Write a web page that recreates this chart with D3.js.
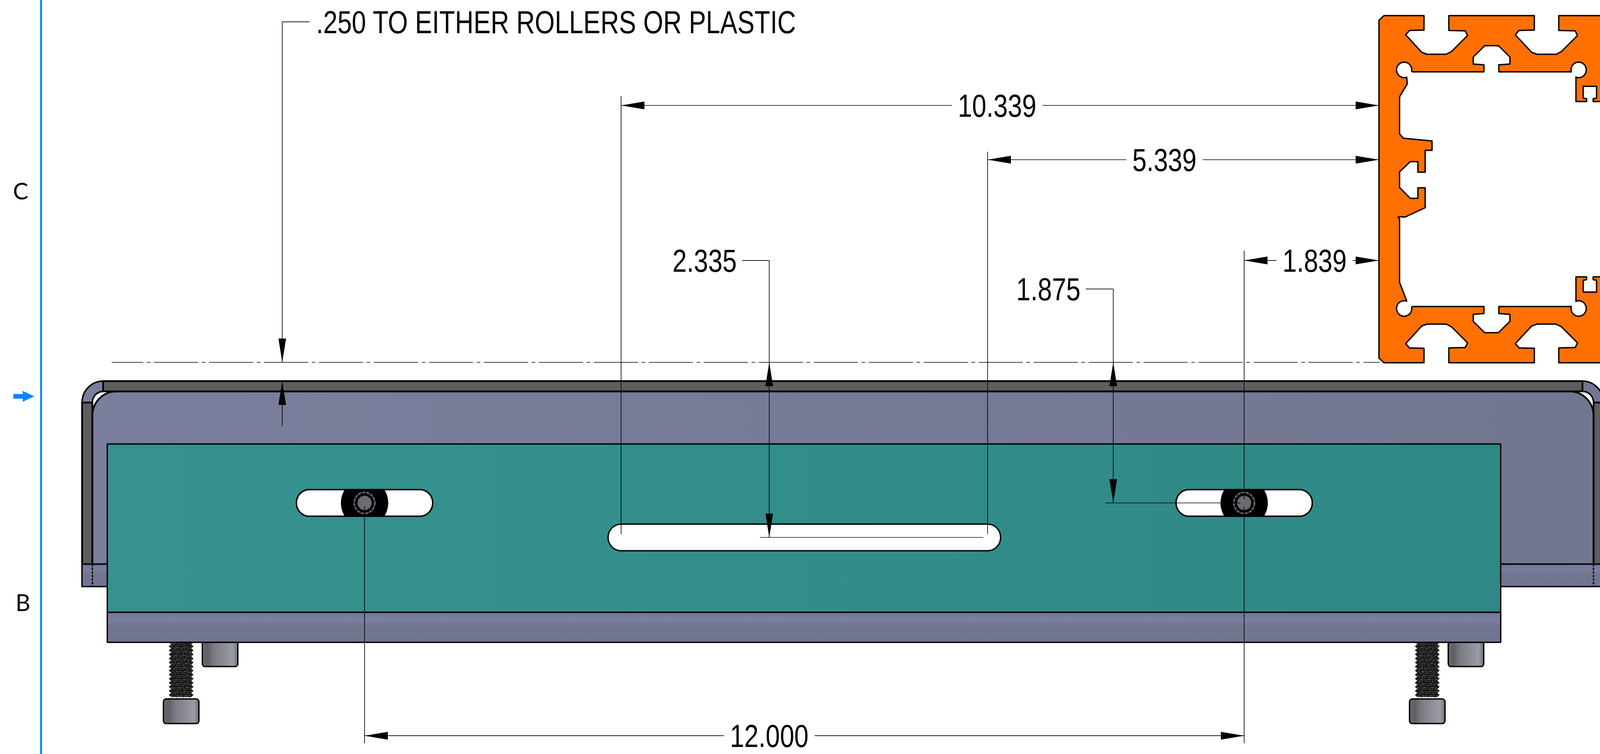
<!DOCTYPE html>
<html lang="en">
  <head>
    <meta charset="UTF-8" />
    <title>Slotted plate drawing</title>
    <script src="https://d3js.org/d3.v7.min.js"></script>
    <style>
      html, body { margin: 0; background: #fff; overflow: hidden; }
      svg { display: block; width: 100vw; height: 100vh; }
      text { font-family: "Liberation Sans", Arial, sans-serif; fill: #000; }
      .zone { font-family: Lato, "Noto Sans", sans-serif; }
    </style>
  </head>

  <body>
    <script>
      const width = 4191;
      const height = 1931;

      // dimensions on the drawing, inches
      const dimLabels = ["10.339", "5.339", "1.839", "12.000", "2.335", "1.875"];
      const dimValues = [10.339, 5.339, 1.839, 12.0, 2.335, 1.875];
      const noteText = ".250 TO EITHER ROLLERS OR PLASTIC";
      const noteValue = 0.25;
      const zoneLetters = ["C", "B"];

      // plate edges, inches from the extrusion face (x) and the datum line (y)
      const channelX = [-17.693, -17.552, -17.406, 2.776, 2.927, 3.063];
      const channelY = [0.25, 0.388, 0.536, 2.693, 2.99];
      const teeX = [-17.349, 1.661];
      const teeY = [1.089, 3.333, 3.734];
      const slotCentersX = [-13.839, -1.839];
      const longSlotX = [-10.339, -5.339];
      const slotHalfWidth = 0.93;
      const slotRadius = 0.178;
      const screwX = [-16.341, 0.659];
      const capX = [-15.81, 1.1875];

      // extrusion profile, top half, 192 counts to the inch
      const profileHeight = 889;
      const profileOuter = [
        [0, 12], [13, 0], [118, 0], [118, 37], [80, 38], [70, 49], [112, 94], [126, 99],
        [176, 99], [190, 92], [232, 51], [226, 39], [183, 38], [183, 0], [407, 0], [407, 37],
        [367, 38], [357, 49], [400, 94], [414, 99], [464, 99], [478, 92], [520, 51], [514, 39],
        [471, 38], [471, 0], [640, 0],
      ];
      const profileInnerA = [
        [88, 144], [275, 144], [275, 126], [247, 124], [247, 106], [277, 77], [313, 77],
        [343, 106], [343, 124], [314, 126], [314, 144], [502, 144],
      ];
      const profileInnerB = [
        [516, 157], [516, 220], [544, 220], [544, 213], [535, 211], [535, 181], [570, 181],
        [570, 211], [561, 213], [561, 220], [640, 220],
      ];
      const profileWeb = [
        [74, 175], [54, 208], [54, 303], [64, 314], [139, 321], [139, 345], [121, 345],
        [121, 401], [102, 401], [102, 374], [82, 374], [54, 400], [54, 440], [82, 468],
        [102, 468], [102, 441], [121, 441], [121, 492], [68, 516], [58, 515], [50, 516],
        [54, 520], [54, 683],
      ];

      // x: inches from the extrusion face, y: inches below the datum line
      const x = d3.scaleLinear().domain([0, 1]).range([3612, 3804]);
      const y = d3.scaleLinear().domain([0, 1]).range([928, 1120]);
      const px = d3.scaleLinear().domain([0, 192]).range([3612, 3804]);
      const py = d3.scaleLinear().domain([0, 192]).range([40, 232]);
      const line = d3.line();
      const profileLine = d3.line().x((d) => px(d[0])).y((d) => py(d[1]));

      // window may be narrower than the sheet, so stretch the sheet to fill it
      const svg = d3
        .select("body")
        .append("svg")
        .attr("viewBox", `0 0 ${width} ${height}`)
        .attr("preserveAspectRatio", "none");

      const defs = svg.append("defs");

      function gradient(id, x2, y2, stops) {
        const g = defs
          .append("linearGradient")
          .attr("id", id)
          .attr("x1", 0)
          .attr("y1", 0)
          .attr("x2", x2)
          .attr("y2", y2);
        stops.forEach((s) => g.append("stop").attr("offset", s[0]).attr("stop-color", s[1]));
      }
      gradient("teal", 1, 0, [[0, "#36928f"], [1, "#2f8886"]]);
      gradient("violet", 1, 0, [[0, "#7b7e9c"], [1, "#727691"]]);
      gradient("flange", 0, 1, [[0, "#72769a"], [0.25, "#7b7fa0"], [0.45, "#71758f"], [1, "#71748f"]]);
      gradient("head", 1, 0, [
        [0, "#6a6a72"], [0.15, "#5f5f68"], [0.32, "#7a7a83"], [0.5, "#85858e"],
        [0.7, "#92929c"], [0.86, "#9c9ca6"], [1, "#6f6f78"],
      ]);

      // rounded box in sheet pixels, taken from inch edges
      function roundedTop(x0, x1, y0, y1, r) {
        const p = d3.path();
        p.moveTo(x0, y1);
        p.lineTo(x0, y0 + r);
        p.arcTo(x0, y0, x0 + r, y0, r);
        p.lineTo(x1 - r, y0);
        p.arcTo(x1, y0, x1, y0 + r, r);
        p.lineTo(x1, y1);
        p.closePath();
        return p.toString();
      }

      const black = (sel, w) =>
        sel.attr("stroke", "#000").attr("stroke-width", w).attr("stroke-linejoin", "round");

      // ---- back channel ----
      const body = svg.append("g");
      const [cx0, cx1, cx2, cx3, cx4, cx5] = channelX.map(x);
      const [cy0, cy1, cy2, cy3, cy4] = channelY.map(y);

      black(
        body.append("path").attr("d", roundedTop(cx0, cx5, cy0, cy4, cx2 - cx0)).attr("fill", "url(#violet)"),
        4
      );
      black(body.append("rect").attr("x", cx2).attr("y", cy0).attr("width", cx3 - cx2).attr("height", cy1 - cy0).attr("fill", "#5e5e5e"), 4.5);
      [[cx0, cx1], [cx4, cx5]].forEach((b) => {
        black(body.append("rect").attr("x", b[0]).attr("y", cy2).attr("width", b[1] - b[0]).attr("height", cy3 - cy2).attr("fill", "#5e5e5e"), 4.5);
      });
      black(body.append("path").attr("d", roundedTop(cx1, cx4, cy1, cy3, cx2 - cx1)).attr("fill", "#fff"), 4);
      black(body.append("path").attr("d", roundedTop(cx1, cx4, cy1, cy3, 62)).attr("fill", "url(#violet)"), 4.5);
      black(body.append("rect").attr("x", cx0).attr("y", cy3).attr("width", cx5 - cx0).attr("height", cy4 - cy3).attr("fill", "url(#flange)"), 3);
      [cx1, cx4].forEach((v) => {
        black(body.append("line").attr("x1", v).attr("x2", v).attr("y1", cy3).attr("y2", cy4), 3.5).attr("stroke-dasharray", "6 3");
      });

      // ---- screws ----
      const screws = svg.append("g");
      const threadTurns = d3.range(14);
      screwX.forEach((sx, k) => {
        const mid = x(sx);
        const hw = x(0.169) - x(0);
        const top = y(teeY[2]);
        const pitch = (y(4.49) - top) / threadTurns.length;
        const right = threadTurns.flatMap((i) => [
          [mid + hw, top + i * pitch],
          [mid + hw - 6, top + (i + 0.5) * pitch],
        ]);
        const left = right.map((d) => [2 * mid - d[0], d[1]]).reverse();
        screws.append("path").attr("d", line(right.concat(left)) + "Z").attr("fill", "#1a1a1a");
        threadTurns.forEach((i) => {
          [0.3, 0.7].forEach((f, j) => {
            screws
              .append("line")
              .attr("x1", mid - hw + 4)
              .attr("x2", mid + hw - 4)
              .attr("y1", top + (i + f) * pitch)
              .attr("y2", top + (i + f) * pitch - 1.5)
              .attr("stroke", "#7d7d7d")
              .attr("stroke-width", 1.2)
              .attr("stroke-dasharray", j ? "5 4 2 6" : "9 3 3 5")
              .attr("stroke-dashoffset", ((i * 7) % 11) + k * 3);
          });
        });
        black(
          screws
            .append("rect")
            .attr("x", x(sx - 0.242))
            .attr("y", y(4.49))
            .attr("width", x(0.484) - x(0))
            .attr("height", y(4.818) - y(4.49))
            .attr("rx", 7)
            .attr("fill", "url(#head)"),
          3.5
        );
      });
      capX.forEach((sx) => {
        black(
          screws
            .append("rect")
            .attr("x", x(sx - 0.242))
            .attr("y", y(teeY[2]) - 8)
            .attr("width", x(0.484) - x(0))
            .attr("height", y(4.057) - y(teeY[2]) + 8)
            .attr("rx", 7)
            .attr("fill", "url(#head)"),
          3.5
        );
      });

      // ---- plate in front ----
      const [tx0, tx1] = teeX.map(x);
      const [ty0, ty1, ty2] = teeY.map(y);
      black(svg.append("rect").attr("x", tx0).attr("y", ty1).attr("width", tx1 - tx0).attr("height", ty2 - ty1).attr("fill", "url(#flange)"), 3.5);
      black(svg.append("rect").attr("x", tx0).attr("y", ty0).attr("width", tx1 - tx0).attr("height", ty1 - ty0).attr("fill", "url(#teal)"), 3.5);

      // ---- slots ----
      const slots = svg.append("g");
      const r = x(slotRadius) - x(0);

      function slot(a, b, mid, id) {
        const s = slots
          .append("rect")
          .attr("x", a - r)
          .attr("y", mid - r)
          .attr("width", b - a + 2 * r)
          .attr("height", 2 * r)
          .attr("rx", r)
          .attr("fill", "#fff");
        black(s, 3.5);
        if (id) {
          defs
            .append("clipPath")
            .attr("id", id)
            .append("rect")
            .attr("x", a - r)
            .attr("y", mid - r)
            .attr("width", b - a + 2 * r)
            .attr("height", 2 * r);
        }
      }

      const shortSlotY = y(dimValues[5]);
      slotCentersX.forEach((c, i) => {
        const mid = x(c);
        const half = x(slotHalfWidth - slotRadius) - x(0);
        slot(mid - half, mid + half, shortSlotY, `slot${i}`);
        const hex = slots.append("g").attr("clip-path", `url(#slot${i})`);
        hex.append("circle").attr("cx", mid).attr("cy", shortSlotY).attr("r", 62).attr("fill", "#000");
        hex
          .append("circle")
          .attr("cx", mid)
          .attr("cy", shortSlotY)
          .attr("r", 27)
          .attr("fill", "none")
          .attr("stroke", "#74747b")
          .attr("stroke-width", 4)
          .attr("stroke-dasharray", "6 1 2 2");
        black(hex.append("circle").attr("cx", mid).attr("cy", shortSlotY).attr("r", 20).attr("fill", "#6b6b74"), 3);
        black(slots.append("rect").attr("x", mid - half - r).attr("y", shortSlotY - r).attr("width", 2 * half + 2 * r).attr("height", 2 * r).attr("rx", r).attr("fill", "none"), 3.5);
      });
      slot(x(longSlotX[0]), x(longSlotX[1]), y(dimValues[4]));

      // ---- extrusion ----
      const mirror = (pts) => pts.map((d) => [d[0], profileHeight - d[1]]).reverse();
      const arcPts = (cx, cy, rad, a0, a1) =>
        d3.range(a0, a1 + 1, 15).map((a) => [
          cx + rad * Math.cos((a * Math.PI) / 180),
          cy + rad * Math.sin((a * Math.PI) / 180),
        ]);
      const innerTop = [
        ...arcPts(66, 139, 20, 70, 375),
        ...profileInnerA,
        ...arcPts(523, 139, 20, 165, 470),
        ...profileInnerB,
      ];
      const outerPath = profileLine(profileOuter.concat(mirror(profileOuter))) + "Z";
      const innerPath =
        profileLine(innerTop.concat(mirror(innerTop), profileWeb.slice().reverse())) + "Z";
      black(
        svg.append("path").attr("d", outerPath + innerPath).attr("fill", "#ff7000").attr("fill-rule", "evenodd"),
        3.5
      );

      // ---- dimensions ----
      const dims = svg.append("g");

      function thin(x1, y1, x2, y2) {
        return dims
          .append("line")
          .attr("x1", x1)
          .attr("y1", y1)
          .attr("x2", x2)
          .attr("y2", y2)
          .attr("stroke", "#000")
          .attr("stroke-width", 1.7);
      }

      function arrow(tx, ty, dx, dy) {
        const len = 61;
        const half = 10;
        const bx = tx - dx * len;
        const by = ty - dy * len;
        dims
          .append("path")
          .attr("d", line([[tx, ty], [bx - dy * half, by + dx * half], [bx + dy * half, by - dx * half]]) + "Z")
          .attr("fill", "#000");
      }

      // no narrow font installed, so squeeze Liberation Sans to the drawing's width
      function label(str, cx, mid, anchor) {
        const t = dims
          .append("text")
          .attr("x", cx)
          .attr("y", mid + 29)
          .attr("text-anchor", anchor || "middle")
          .attr("font-size", 82)
          .text(str);
        const w = t.node().getComputedTextLength() * 0.82;
        t.attr("textLength", w).attr("lengthAdjust", "spacingAndGlyphs");
        t.fitted = w;
        return t;
      }

      function horizontalDim(i, row, textAt, right) {
        const mid = y(row);
        const a = x(right - dimValues[i]);
        const b = x(right);
        const c = x(textAt);
        const t = label(dimLabels[i], c, mid);
        const half = t.fitted / 2 + 16;
        thin(a, mid, c - half, mid);
        thin(c + half, mid, b, mid);
        arrow(a, mid, -1, 0);
        arrow(b, mid, 1, 0);
      }

      function verticalDim(i, at, row, textAt) {
        const vx = x(at);
        const mid = y(row);
        const c = x(textAt);
        const t = label(dimLabels[i], c, mid);
        const half = t.fitted / 2 + 14;
        thin(c + half, mid, vx, mid);
        thin(vx, mid, vx, y(dimValues[i]));
        arrow(vx, y(0), 0, -1);
        arrow(vx, y(dimValues[i]), 0, 1);
      }

      // datum line
      thin(x(-17.29), y(0), x(0.01), y(0))
        .attr("stroke-dasharray", "116 9 10 9")
        .attr("stroke-dashoffset", 33);

      // extension lines
      thin(x(-dimValues[0]), y(-3.55), x(-dimValues[0]), y(2.29));
      thin(x(-dimValues[1]), y(-2.81), x(-dimValues[1]), y(2.29));
      thin(x(-dimValues[2]), y(-1.49), x(-dimValues[2]), y(1.828));
      thin(x(-dimValues[2]), y(1.922), x(-dimValues[2]), y(5.08));
      thin(x(-dimValues[2] - dimValues[3]), y(1.922), x(-dimValues[2] - dimValues[3]), y(5.08));
      thin(x(-8.445), y(dimValues[4]), x(-5.4), y(dimValues[4])).attr("stroke", "#333");
      thin(x(-3.73), y(dimValues[5]), x(-1.89), y(dimValues[5]));

      horizontalDim(0, -3.427, -5.21, 0);
      horizontalDim(1, -2.703, -2.927, 0);
      horizontalDim(2, -1.359, -0.878, 0);
      horizontalDim(3, 4.98, -8.318, -dimValues[2]);
      verticalDim(4, -8.318, -1.359, -9.2);
      verticalDim(5, -3.625, -0.979, -4.51);

      // .250 note
      const noteX = x(-14.962);
      const noteRow = y(-4.542);
      thin(noteX, noteRow, x(-14.59), noteRow);
      thin(noteX, noteRow, noteX, y(0));
      thin(noteX, y(noteValue), noteX, y(0.85));
      arrow(noteX, y(0), 0, 1);
      arrow(noteX, y(noteValue), 0, -1);
      label(noteText, x(-14.5), noteRow, "start");

      // ---- sheet border, zone letters and view arrow ----
      const border = svg.append("g");
      border.append("rect").attr("x", 105).attr("y", 0).attr("width", 5).attr("height", height).attr("fill", "#0a84ff");
      border
        .append("path")
        .attr("d", line([[35, 1009], [60, 1009], [59, 1001], [90, 1015], [59, 1029], [60, 1021], [35, 1021]]) + "Z")
        .attr("fill", "#0a84ff");
      border
        .selectAll("text")
        .data(zoneLetters)
        .enter()
        .append("text")
        .attr("class", "zone")
        .attr("x", (d, i) => [54, 60][i])
        .attr("y", (d, i) => [511, 1565][i])
        .attr("text-anchor", "middle")
        .attr("font-size", 60)
        .text((d) => d);
    </script>
  </body>
</html>
